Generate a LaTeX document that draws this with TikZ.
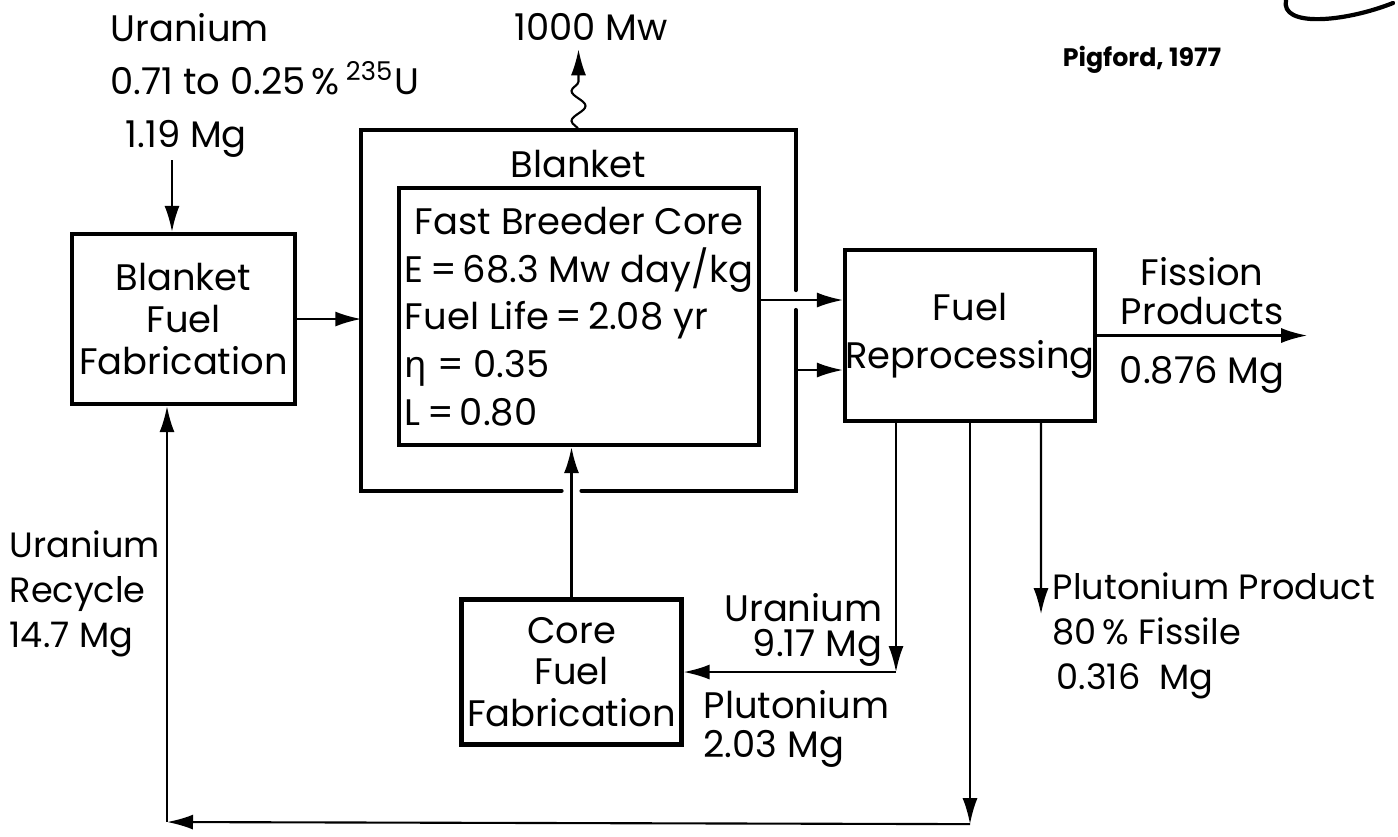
\documentclass[tikz,border=0pt]{standalone}
\usepackage{fontspec}
\setmainfont{Poppins}
\newfontfamily\greekfont{Noto Sans}
\usetikzlibrary{arrows.meta,positioning,calc,decorations.pathmorphing}

\begin{document}
\begin{tikzpicture}[
  font=\fontsize{10.5}{13}\selectfont,
  unitbox/.style={draw, very thick, align=center, inner sep=0pt},
  tag/.style={align=left, inner sep=0pt},
  arrow/.style={-{Latex[length=2.6mm, width=1.5mm]}, semithick},
  wall/.style={very thick, line cap=round}
]
\useasboundingbox (0,0) rectangle (13.98,-8.36);
\node[unitbox, minimum width=2.23cm, minimum height=1.70cm, font=\fontsize{10.5}{12}\selectfont] (bff) at (1.835,-3.19) {Blanket\\Fuel\\Fabrication};
\node[minimum width=4.33cm, minimum height=3.59cm, inner sep=0pt] (blanket) at (5.785,-3.105) {};
\node[tag, below=0.19cm of blanket.north] (blanketlbl) {Blanket};
\node[unitbox, align=left, minimum width=3.60cm, minimum height=2.57cm, font=\fontsize{10.5}{13.6}\selectfont] (core) at (5.79,-3.165) {\hspace*{0.1cm}Fast Breeder Core\\E\,=\,68.3 Mw day/kg\\Fuel Life\,=\,2.08 yr\\{\greekfont η} = 0.35\\L\,=\,0.80};
\node[unitbox, minimum width=2.50cm, minimum height=1.71cm, font=\fontsize{10.5}{13.6}\selectfont] (rp) at (9.70,-3.355) {Fuel\\Reprocessing};
\node[unitbox, minimum width=2.20cm, minimum height=1.45cm, font=\fontsize{10.5}{11.7}\selectfont] (cff) at (5.715,-6.72) {Core\\Fuel\\Fabrication};
\node[tag, anchor=north west, font=\fontsize{10.5}{15}\selectfont] (feed) at (1.10,-0.13) {Uranium\\0.71 to 0.25\,\%\,\textsuperscript{235}U\\\hspace*{0.15cm}1.19 Mg};
\node[tag] (power) at (5.91,-0.27) {1000 Mw};
\node[tag, font=\bfseries\fontsize{7.2}{8}\selectfont] (cite) at (11.42,-0.60) {Pigford, 1977};
\node[tag, anchor=north west, font=\fontsize{10}{12.8}\selectfont] (rclbl) at (0.09,-5.30) {Uranium\\Recycle\\14.7 Mg};
\node[tag, anchor=north west, font=\fontsize{10}{12.8}\selectfont] (pulbl) at (10.52,-5.72) {Plutonium Product\\80\,\% Fissile\\\hspace*{0.04cm}0.316\ \ Mg};
\coordinate (feedtop) at (1.72,-1.60);
\coordinate (gapR) at ([yshift=0.165cm]core.east -| blanket.east);
\coordinate (gapB) at (cff.north |- blanket.south);
\coordinate[right=2.1cm of rp.east] (fpend);
\coordinate (ucorner) at ([xshift=-0.74cm]rp.south |- cff.east);
\coordinate (puend) at ($(rp.south)+(0.71,-1.91)$);
\coordinate (rcright) at ($(rp.south)+(0,-4.01)$);
\coordinate (rcleft) at (1.67,-8.22);
\node[tag, align=right, anchor=south east, font=\fontsize{10.5}{10}\selectfont] (ulbl) at ([shift={(-0.13,0.05)}]ucorner) {Uranium\\9.17 Mg};
\node[tag, anchor=north west, font=\fontsize{10.5}{11}\selectfont] (plbl) at (7.03,-6.90) {Plutonium\\2.03 Mg};
\draw[wall] ([xshift=0.1cm]gapB) -- (blanket.south east) -- ([yshift=-0.1cm]gapR);
\draw[wall] ([yshift=0.1cm]gapR) -- (blanket.north east) -- (blanket.north west) -- (blanket.south west) -- ([xshift=-0.1cm]gapB);
\draw[wall] (12.86,0.0) .. controls (12.80,-0.28) and (13.45,-0.22) .. (13.93,-0.03);
\draw[arrow] (feedtop) -- (feedtop |- bff.north);
\draw[arrow] (bff.east) -- (bff.east -| blanket.west);
\draw[arrow, decorate, decoration={snake, amplitude=0.7mm, segment length=3mm, post length=2.8mm}] (blanket.north) -- ([yshift=-0.08cm]blanket.north |- power.south);
\draw[arrow] ([yshift=0.165cm]core.east) -- ([yshift=0.165cm]core.east -| rp.west);
\draw[arrow] ([yshift=-0.595cm]blanket.east) -- ([yshift=-0.595cm]blanket.east -| rp.west);
\draw[arrow] (cff.north) -- (cff.north |- core.south);
\draw[arrow] (rp.east) -- node[tag, align=center, above=0.1cm, font=\fontsize{10.5}{11}\selectfont] {Fission\\Products} node[tag, below=0.2cm] {0.876 Mg} (fpend);
\draw[arrow] ([xshift=-0.74cm]rp.south) -- (ucorner);
\draw[arrow] (ucorner) -- (cff.east);
\draw[arrow] ([xshift=0.71cm]rp.south) -- (puend);
\draw[arrow] (rp.south) -- (rcright);
\draw[arrow] (rcright) -- (rcleft);
\draw[arrow] (rcleft) -- (rcleft |- bff.south);
\end{tikzpicture}
\end{document}
